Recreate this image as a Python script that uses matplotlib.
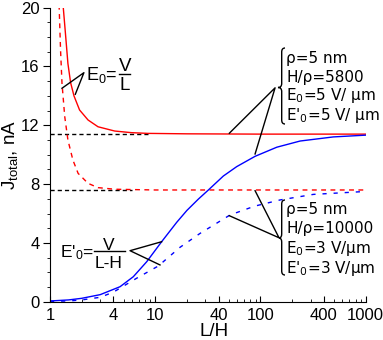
import matplotlib
matplotlib.use('Agg')
import matplotlib.pyplot as plt
from matplotlib.path import Path
from matplotlib.patches import PathPatch
from matplotlib.ticker import FixedLocator, LogLocator, NullFormatter

plt.rcParams['font.family'] = ['Liberation Sans', 'DejaVu Sans']
plt.rcParams['mathtext.fontset'] = 'custom'
plt.rcParams['mathtext.rm'] = 'Liberation Sans'
plt.rcParams['mathtext.it'] = 'Liberation Sans'
plt.rcParams['mathtext.default'] = 'regular'

# data (L/H, J_total in nA)
red_solid_x = [1.33, 1.40, 1.48, 1.57, 1.69, 1.91, 2.30, 2.86, 4.12, 5.93, 8.5, 20, 100, 1000]
red_solid_y = [20.2, 18.3, 16.2, 14.9, 14.0, 13.04, 12.36, 11.9, 11.61, 11.5, 11.45, 11.42, 11.4, 11.4]

red_dash_x = [1.22, 1.26, 1.30, 1.38, 1.48, 1.65, 1.85, 2.30, 2.86, 4.12, 10, 100, 1000]
red_dash_y = [20.2, 17.1, 14.86, 12.6, 11.0, 9.64, 8.73, 8.05, 7.76, 7.65, 7.6, 7.6, 7.6]

blue_solid_x = [1, 1.5, 2, 3, 4.63, 6.19, 8.3, 11.5, 16, 20, 25.7, 32, 44.4, 59.5,
                88.9, 143, 238, 493, 1000]
blue_solid_y = [0.05, 0.12, 0.23, 0.48, 1.02, 1.7, 2.72, 4.08, 5.4, 6.21, 6.98, 7.6, 8.55, 9.19,
                9.89, 10.51, 10.93, 11.21, 11.33]

blue_dash_x = [1, 1.5, 2, 3, 4, 6.67, 10.7, 17.2, 26.7, 51.4, 88, 153, 318, 1000]
blue_dash_y = [0.02, 0.05, 0.12, 0.3, 0.65, 1.6, 2.43, 3.7, 4.65, 5.9, 6.5, 6.92, 7.3, 7.5]

# asymptote guides
guide_hi_x = [1, 8.5]
guide_hi_y = [11.4, 11.4]
guide_lo_x = [1, 5.97]
guide_lo_y = [7.6, 7.6]

xticks = [1, 4, 10, 40, 100, 400, 1000]
yticks = [0, 4, 8, 12, 16, 20]

W, H = 383, 340
fig = plt.figure(figsize=(W / 100, H / 100), dpi=100)
ax = fig.add_axes([50 / W, 1 - 301.7 / H, 315.7 / W, 294 / H])

ax.plot(guide_hi_x, guide_hi_y, color='black', lw=1, dashes=(3, 2.2))
ax.plot(guide_lo_x, guide_lo_y, color='black', lw=1, dashes=(3, 2.2))
ax.plot(red_solid_x, red_solid_y, color='#ff0000', lw=1)
ax.plot(red_dash_x, red_dash_y, color='#ff0000', lw=1, dashes=(3.5, 3.2))
ax.plot(blue_solid_x, blue_solid_y, color='#0000ff', lw=1)
ax.plot(blue_dash_x, blue_dash_y, color='#0000ff', lw=1, dashes=(3, 5))

ax.set_xscale('log')
ax.set_xlim(1, 1000)
ax.set_ylim(0, 20)
for s in ['top', 'right']:
    ax.spines[s].set_visible(False)

ax.xaxis.set_major_locator(FixedLocator(xticks))
ax.set_xticklabels([str(t) for t in xticks])
ax.xaxis.set_minor_locator(LogLocator(subs=range(2, 10)))
ax.xaxis.set_minor_formatter(NullFormatter())
ax.set_yticks(yticks)
ax.set_yticks(range(0, 21), minor=True)
ax.tick_params(axis='x', which='major', direction='in', length=4, pad=4.5, labelsize=12)
ax.tick_params(axis='x', which='minor', direction='in', length=2.5)
ax.tick_params(axis='y', which='major', direction='out', length=5, pad=2.5, labelsize=12)
ax.tick_params(axis='y', which='minor', direction='out', length=2.5)

ax.set_xlabel('L/H', fontsize=13.5, labelpad=0)
ax.xaxis.label.set_x(0.52)
ax.set_ylabel('J$_{total}$, nA', fontsize=13.5, labelpad=1)

# E0 = V/L label
ax.text(2.2, 15.08, 'E$_0$=', fontsize=13, va='baseline', ha='left')
ax.text(5.13, 15.71, 'V', fontsize=13.5, va='baseline', ha='center')
ax.text(5.13, 14.40, 'L', fontsize=13.5, va='baseline', ha='center')
ax.plot([4.53, 5.80], [15.49, 15.49], color='black', lw=1)
ax.plot([1.30, 2.10, 1.74], [14.52, 15.58, 14.11], color='black', lw=1)

# E'0 = V/(L-H) label
ax.text(1.245, 3.02, "E'$_0$=", fontsize=12.5, va='baseline', ha='left')
ax.text(3.58, 3.52, 'V', fontsize=12.5, va='baseline', ha='center')
ax.text(3.58, 2.27, 'L-H', fontsize=12.5, va='baseline', ha='center')
ax.plot([2.64, 5.16], [3.47, 3.47], color='black', lw=1)
ax.plot([11.5, 5.76, 11.1], [4.08, 3.47, 2.5], color='black', lw=1)


def brace(xtip, xmid, xend, ytop, ybot, ym):
    # curly brace in figure pixels (y measured from top)
    r = 4
    pts = [(xend, ytop), (xmid, ytop), (xmid, ytop + r),
           (xmid, ym - r), (xmid, ym), (xtip, ym),
           (xmid, ym), (xmid, ym + r),
           (xmid, ybot - r), (xmid, ybot), (xend, ybot)]
    codes = [Path.MOVETO, Path.CURVE3, Path.CURVE3,
             Path.LINETO, Path.CURVE3, Path.CURVE3,
             Path.CURVE3, Path.CURVE3,
             Path.LINETO, Path.CURVE3, Path.CURVE3]
    verts = [(x / W, 1 - y / H) for x, y in pts]
    fig.add_artist(PathPatch(Path(verts, codes), transform=fig.transFigure,
                             fill=False, lw=1, color='black'))


upper_lines = ['ρ=5 nm', 'H/ρ=5800', 'E$_0$=5 V/ μm', "E'$_0$=5 V/ μm"]
upper_base = [16.22, 14.93, 13.72, 12.35]
lower_lines = ['ρ=5 nm', 'H/ρ=10000', 'E$_0$=3 V/μm', "E'$_0$=3 V/μm"]
lower_base = [5.95, 4.65, 3.29, 1.93]

legend_font = ['DejaVu Sans']
for s, y in zip(upper_lines, upper_base):
    ax.text(175, y, s, fontsize=11, family=legend_font, math_fontfamily='dejavusans',
            va='baseline', ha='left')
for s, y in zip(lower_lines, lower_base):
    ax.text(175, y, s, fontsize=11, family=legend_font, math_fontfamily='dejavusans',
            va='baseline', ha='left')

brace(278, 281.7, 285, 48, 124, 87.5)
brace(279, 281.7, 285, 200, 275, 238)
ax.plot([50.6, 137.7, 88.9], [11.46, 14.55, 10.05], color='black', lw=1)
ax.plot([88.9, 150, 50.6], [7.55, 4.35, 5.85], color='black', lw=1)

fig.savefig('out.png', dpi=100)
